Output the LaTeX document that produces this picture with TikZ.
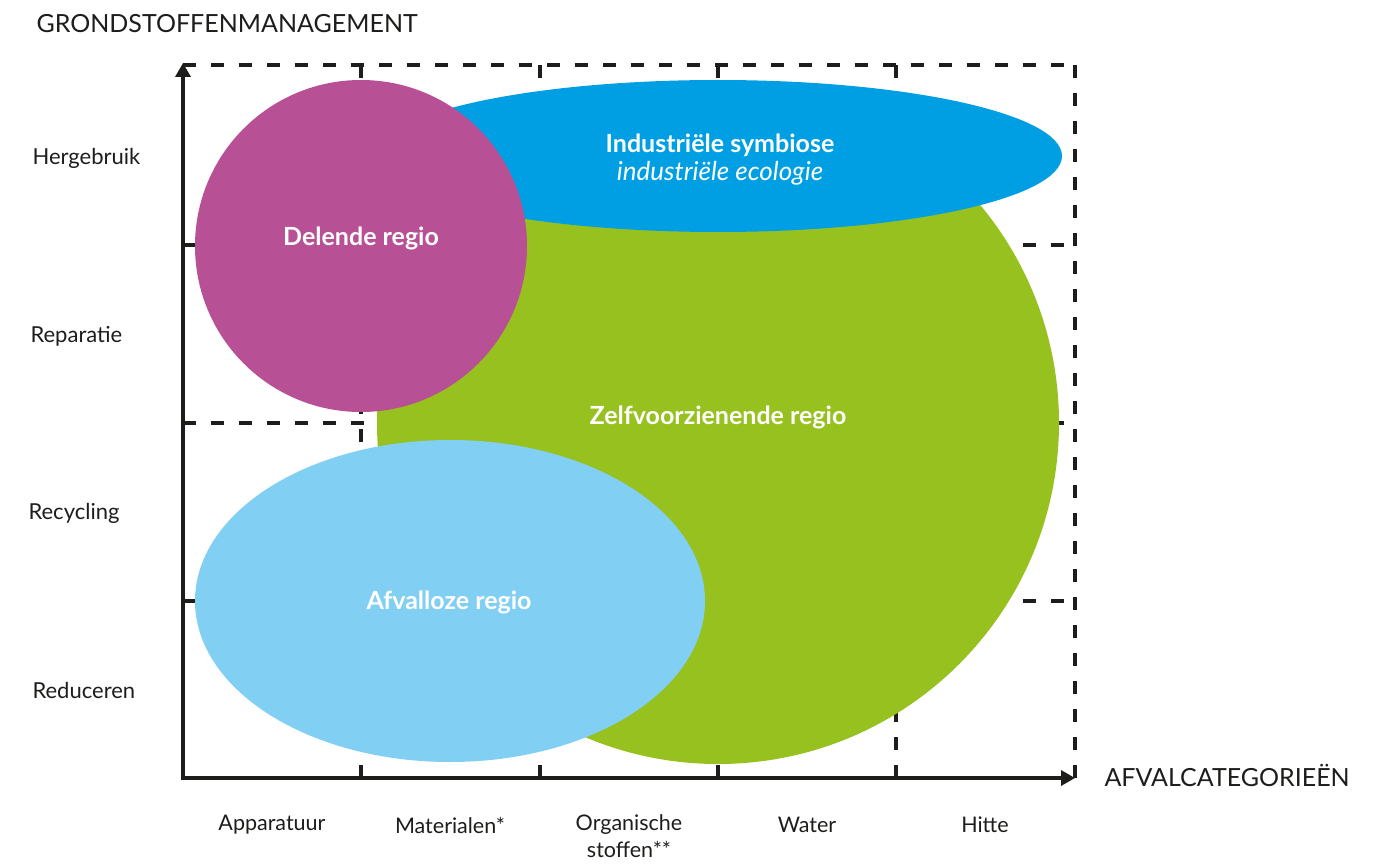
\documentclass[tikz,border=0pt]{standalone}
\usepackage{fontspec}
\setmainfont{Lato}
\usetikzlibrary{arrows.meta}

\definecolor{inkt}{HTML}{1D1D1B}
\definecolor{groen}{HTML}{96C11F}
\definecolor{blauw}{HTML}{009FE3}
\definecolor{paars}{HTML}{B85096}
\definecolor{lichtblauw}{HTML}{82CFF4}

\begin{document}
\begin{tikzpicture}[
        x=1pt, y=-1pt,
        raster/.style={draw=inkt, line width=3.5pt, dash pattern=on 13pt off 15pt},
        as/.style={draw=inkt, line width=3.5pt, {Triangle[length=14pt,width=15pt]}-{Triangle[length=14pt,width=15pt]}},
        rij/.style={anchor=west, text=inkt, font=\fontsize{22}{26}\selectfont},
        kolom/.style={anchor=center, text=inkt, align=center, font=\fontsize{21.5}{27}\selectfont},
        titel/.style={anchor=west, text=inkt, font=\fontsize{25}{29}\selectfont},
        regio/.style={text=white, align=center, font=\bfseries\fontsize{25}{28}\selectfont}
    ]
        \useasboundingbox (0,0) rectangle (1377,864);

        % Raster
        \foreach \y in {65,245,423,601}
            \draw[raster] (183,\y) -- (1075,\y);
        \foreach \x in {361,540,718,896,1075}
            \draw[raster] (\x,65) -- (\x,778);

        % Regio's
        \fill[groen] (718,423) circle [radius=341];
        \fill[blauw] (718,156) ellipse [x radius=344, y radius=76];
        \fill[paars] (361,246) circle [radius=166];
        \fill[lichtblauw] (450,601) ellipse [x radius=255, y radius=161];

        \node[regio] (symbiose) at (720,160) {Industriële symbiose\\\textit{\mdseries\fontsize{26}{28}\selectfont industriële ecologie}};
        \node[regio] (delend) at (361,238) {Delende regio};
        \node[regio] (zelf) at (718,417) {Zelfvoorzienende regio};
        \node[regio] (afvalloos) at (449,602) {Afvalloze regio};

        % Assen
        \coordinate (top) at (183,63);
        \coordinate (oorsprong) at (183,778);
        \coordinate (eind) at (1075,778);
        \draw[as] (top) -- (oorsprong) -- (eind);

        \node[titel] (yas) at (33,24) {GRONDSTOFFENMANAGEMENT};
        \node[titel] (xas) at (1101,775) {AFVALCATEGORIEËN};

        % Rijen
        \node[rij] (hergebruik) at (29,158) {Hergebruik};
        \node[rij] (reparatie) at (27,336) {Reparatie};
        \node[rij] (recycling) at (25,513) {Recycling};
        \node[rij] (reduceren) at (29,690) {Reduceren};

        % Kolommen
        \node[kolom] (apparatuur) at (272,825) {Apparatuur};
        \node[kolom] (materialen) at (450,825) {Materialen*};
        \node[kolom, anchor=north] (organisch) at (629,811) {Organische\\stoffen**};
        \node[kolom] (water) at (807,825) {Water};
        \node[kolom] (hitte) at (985,825) {Hitte};
    \end{tikzpicture}
\end{document}
